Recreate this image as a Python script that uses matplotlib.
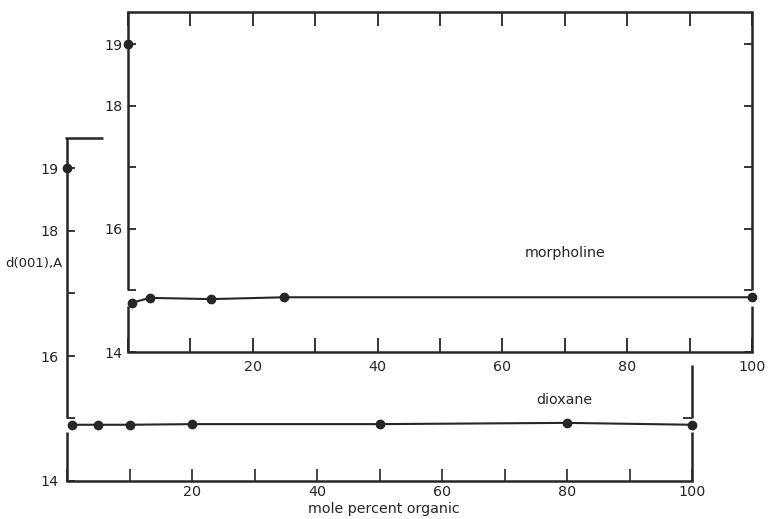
import matplotlib
matplotlib.use("Agg")
from matplotlib import pyplot as plt

# d(001) spacing, Angstrom, vs mole percent organic
water_d = 19.0

morpholine_x = [0.6, 3.5, 13.3, 25, 100]
morpholine_y = [14.80, 14.88, 14.86, 14.89, 14.89]

dioxane_x = [0.8, 5, 10, 20, 50, 80, 100]
dioxane_y = [14.90, 14.90, 14.90, 14.91, 14.91, 14.93, 14.90]

x_ticks = [0, 10, 20, 30, 40, 50, 60, 70, 80, 90, 100]
x_labels = ["", "", "20", "", "40", "", "60", "", "80", "", "100"]
y_ticks = [14, 15, 16, 17, 18, 19]
y_labels = ["14", "", "16", "", "18", "19"]

INK = "#262626"
W, H = 768, 519

plt.rcParams["font.family"] = "DejaVu Sans"
plt.rcParams["font.size"] = 10.3

fig = plt.figure(figsize=(W / 100, H / 100), dpi=100)


def box(left, top, right, bottom):
    return [left / W, 1 - bottom / H, (right - left) / W, (bottom - top) / H]


def broken_spine(ax, x, y_low_end, y_high_start, y_top, lw=1.8):
    ax.vlines(x, 14, y_low_end, color=INK, lw=lw, clip_on=False)
    ax.vlines(x, y_high_start, y_top, color=INK, lw=lw, clip_on=False)


# back panel: morpholine
back = fig.add_axes(box(128, 12, 752, 352))
back_top = 14 + 340 / 61.5
back.set_xlim(0, 100)
back.set_ylim(14, back_top)
for s in ["left", "right"]:
    back.spines[s].set_visible(False)
for s in ["top", "bottom"]:
    back.spines[s].set_linewidth(1.8)
    back.spines[s].set_color(INK)
broken_spine(back, 0, 14.74, 15, back_top)
broken_spine(back, 100, 14.75, 15, back_top)
back.set_xticks(x_ticks)
back.set_xticklabels(x_labels)
back.set_yticks(y_ticks)
back.set_yticklabels(y_labels)
back.tick_params(axis="x", direction="in", length=10, width=1.3, color=INK,
                 top=True, pad=6, labelcolor=INK)
back.tick_params(axis="y", direction="in", length=6, width=1.3, color=INK,
                 right=True, pad=4, labelcolor=INK)
back.plot(morpholine_x, morpholine_y, "-", color=INK, lw=1.5, clip_on=False)
back.plot(morpholine_x, morpholine_y, "o", color=INK, ms=6, clip_on=False)
back.plot([0], [water_d], "o", color=INK, ms=6, clip_on=False)
back.text(70, 15.61, "morpholine", ha="center", va="center", color=INK)

# front panel: dioxane
front = fig.add_axes(box(67, 138, 692, 481))
front_top = 14 + 343 / 62.5
front.set_xlim(0, 100)
front.set_ylim(14, front_top)
front.patch.set_alpha(0)
for s in ["left", "right", "top"]:
    front.spines[s].set_visible(False)
front.spines["bottom"].set_linewidth(1.8)
front.spines["bottom"].set_color(INK)
broken_spine(front, 0, 14.78, 15, front_top)
front.hlines(front_top, -0.3, 5.8, color=INK, lw=1.8, clip_on=False)
broken_spine(front, 100, 14.78, 15, 15.86)
front.hlines(15, 98.6, 100, color=INK, lw=1.3, clip_on=False)
front.set_xticks(x_ticks)
front.set_xticklabels(x_labels)
front.set_yticks(y_ticks)
front.set_yticklabels(y_labels)
front.tick_params(axis="x", direction="in", length=8.5, width=1.2, color=INK,
                  pad=3, labelcolor=INK)
front.tick_params(axis="y", direction="in", length=6, width=1.3, color=INK,
                  pad=6, labelcolor=INK)
front.plot(dioxane_x, dioxane_y, "-", color=INK, lw=1.5, clip_on=False)
front.plot(dioxane_x, dioxane_y, "o", color=INK, ms=6, clip_on=False)
front.plot([0], [water_d], "o", color=INK, ms=6, clip_on=False)
front.text(79.6, 15.3, "dioxane", ha="center", va="center", color=INK)

fig.text(34 / W, 1 - 263 / H, "d(001),A", ha="center", va="center", color=INK, fontsize=9.5)
fig.text(384 / W, 1 - 509 / H, "mole percent organic", ha="center", va="center", color=INK)

fig.savefig("out.png", dpi=100)
